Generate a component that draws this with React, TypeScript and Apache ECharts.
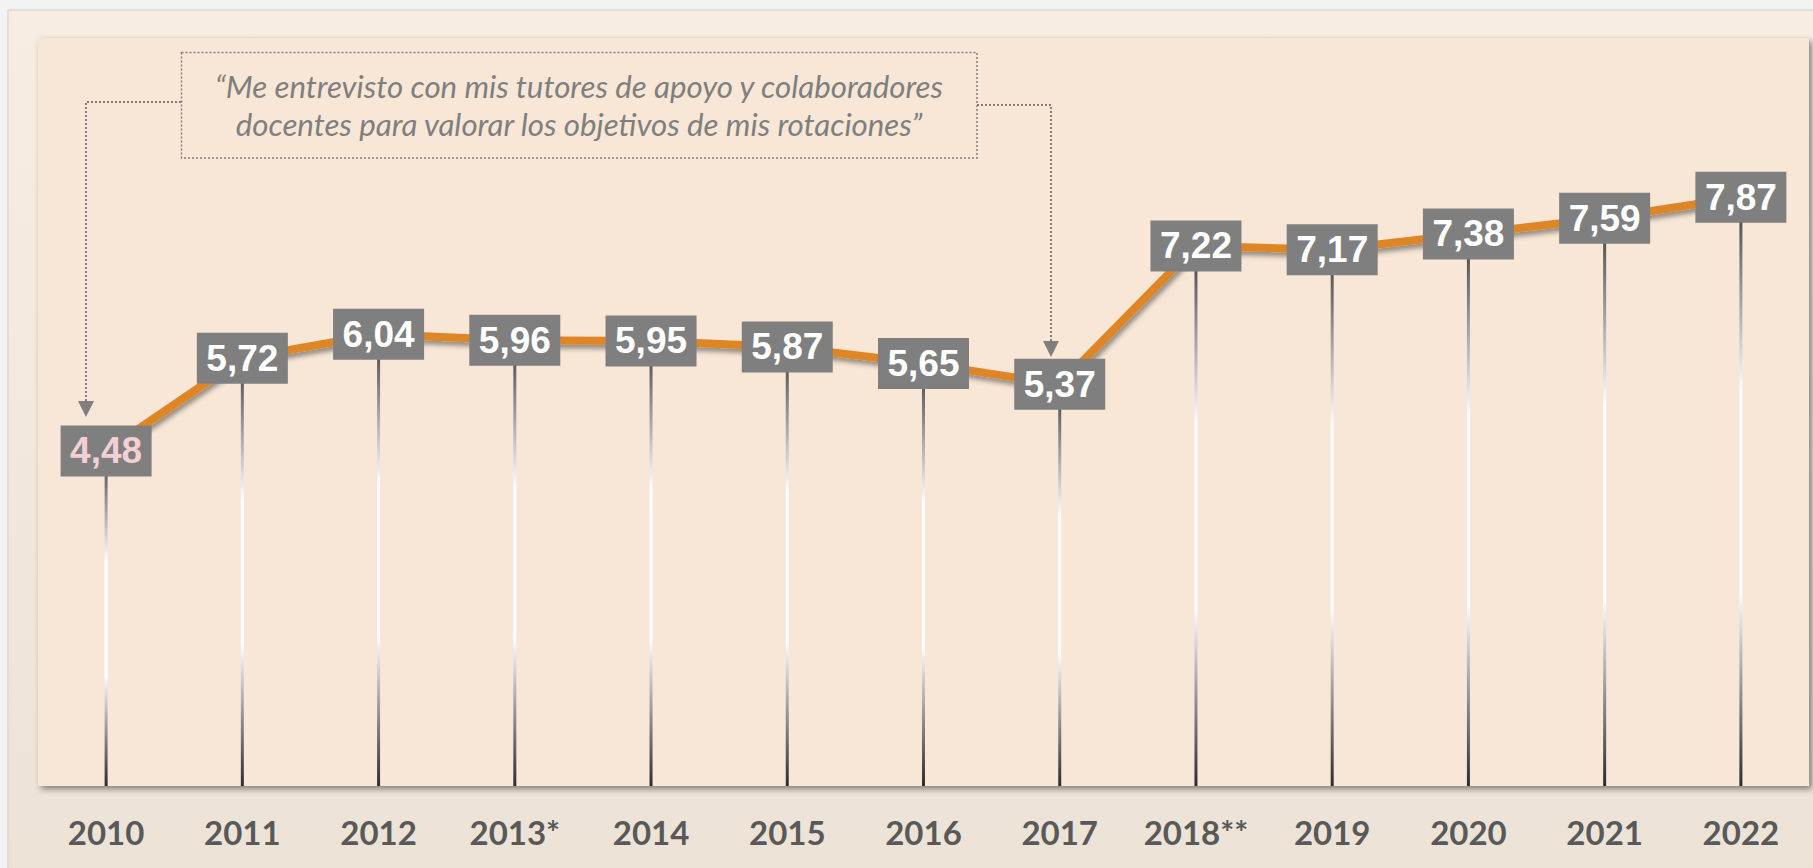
import React, { useEffect, useRef } from "react";
import * as echarts from "echarts";

const years = ["2010", "2011", "2012", "2013*", "2014", "2015", "2016", "2017", "2018**", "2019", "2020", "2021", "2022"];
const scores = [4.48, 5.72, 6.04, 5.96, 5.95, 5.87, 5.65, 5.37, 7.22, 7.17, 7.38, 7.59, 7.87];
const quoteLines = [
  "“Me entrevisto con mis tutores de apoyo y colaboradores",
  "docentes para valorar los objetivos de mis rotaciones”",
];

function fitFont(text: string, font: string, target: number): number {
  const c = document.createElement("canvas").getContext("2d");
  if (!c) return 28;
  c.font = font.replace("SIZE", "100px");
  const w = c.measureText(text).width;
  return w > 0 ? (100 * target) / w : 28;
}

export default function App() {
  const ref = useRef<HTMLDivElement>(null);
  useEffect(() => {
    if (!ref.current) return;
    const chart = echarts.init(ref.current, undefined, { renderer: "svg" });
    const quoteSize = Math.min(31.5, fitFont(quoteLines[0], "italic 400 SIZE Lato", 730));
    const dotted = { stroke: "#7f7f7f", lineWidth: 2, lineDash: [2, 2], fill: null };
    chart.setOption({
      animation: false,
      backgroundColor: "#f3f3f3",
      grid: {
        left: 38,
        top: 38,
        width: 1771,
        height: 748,
        show: true,
        backgroundColor: "#f8e7d6",
        borderWidth: 0,
        shadowColor: "rgba(0,0,0,0.45)",
        shadowBlur: 6,
        shadowOffsetX: 3,
        shadowOffsetY: 3,
      },
      xAxis: {
        type: "category",
        data: years,
        axisLine: { show: false },
        axisTick: { show: false },
        splitLine: { show: false },
        axisLabel: {
          margin: 26,
          fontFamily: "Lato",
          fontWeight: "bold",
          fontSize: 33,
          lineHeight: 40,
          color: "#595959",
        },
      },
      yAxis: { type: "value", min: 0, max: 10, show: false, splitLine: { show: false } },
      graphic: [
        {
          type: "rect",
          z: -10,
          silent: true,
          shape: { x: 8, y: 10, width: 1810, height: 870 },
          style: {
            fill: new echarts.graphic.LinearGradient(0, 0, 0, 1, [
              { offset: 0, color: "#f7ede3" },
              { offset: 1, color: "#ece2d6" },
            ]),
            stroke: "#dadada",
            lineWidth: 1.5,
          },
        },
        {
          type: "rect",
          z: 10,
          shape: { x: 181.5, y: 52.5, width: 795.5, height: 105.5 },
          style: { stroke: "#7f7f7f", lineWidth: 1.5, lineDash: [2, 2], fill: null },
        },
        {
          type: "text",
          z: 10,
          x: 579,
          y: 104.5,
          style: {
            text: quoteLines.join("\n"),
            fontFamily: "Lato",
            fontStyle: "italic",
            fontSize: quoteSize,
            lineHeight: 38,
            fill: "#7f7f7f",
            align: "center",
            verticalAlign: "middle",
          },
        },
        {
          type: "polyline",
          z: 10,
          shape: { points: [[181, 102], [86, 102], [86, 404]] },
          style: dotted,
        },
        {
          type: "polygon",
          z: 10,
          shape: { points: [[78, 401], [94, 401], [86, 417]] },
          style: { fill: "#7f7f7f" },
        },
        {
          type: "polyline",
          z: 10,
          shape: { points: [[977, 105], [1051, 105], [1051, 343]] },
          style: dotted,
        },
        {
          type: "polygon",
          z: 10,
          shape: { points: [[1043, 341], [1059, 341], [1051, 357]] },
          style: { fill: "#7f7f7f" },
        },
      ],
      series: [
        {
          type: "bar",
          data: scores,
          barWidth: 3,
          z: 1,
          itemStyle: {
            color: new echarts.graphic.LinearGradient(0, 0, 0, 1, [
              { offset: 0, color: "#3c3c3c" },
              { offset: 0.33, color: "#ffffff" },
              { offset: 0.67, color: "#ffffff" },
              { offset: 1, color: "#2c2c2c" },
            ]),
          },
        },
        {
          type: "line",
          z: 3,
          data: scores.map((v, i) => ({
            value: v,
            label: { color: i === 0 ? "#f3d0d3" : "#ffffff" },
          })),
          symbol: "rect",
          symbolSize: [91, 51],
          itemStyle: { color: "#7f7f7f" },
          lineStyle: {
            color: "#de8628",
            width: 8,
            shadowColor: "rgba(0,0,0,0.4)",
            shadowBlur: 5,
            shadowOffsetX: 2,
            shadowOffsetY: 4,
          },
          label: {
            show: true,
            position: "inside",
            fontFamily: "Liberation Sans",
            fontWeight: "bold",
            fontSize: 37,
            formatter: (p: any) => Number(p.value).toFixed(2).replace(".", ","),
          },
        },
      ],
    });
    return () => chart.dispose();
  }, []);
  return (
    <div
      ref={ref}
      style={{ position: "absolute", left: 0, top: 0, width: 1813, height: 868 }}
    />
  );
}
